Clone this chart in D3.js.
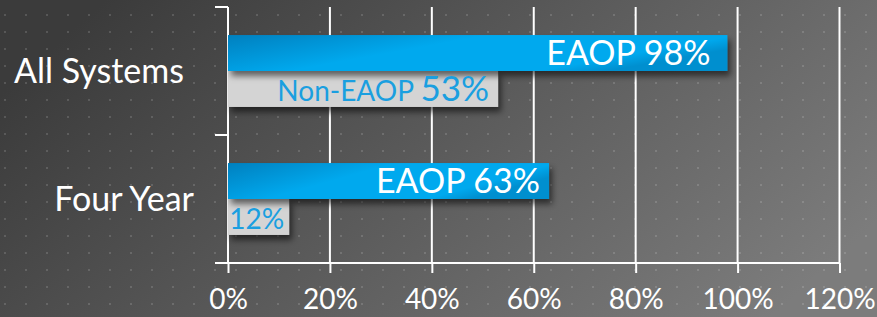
<!DOCTYPE html>
<html>
<head>
<meta charset="utf-8">
<script src="https://cdn.jsdelivr.net/npm/d3@7"></script>
<style>
  html, body { margin: 0; padding: 0; background: #555; }
  svg { display: block; font-family: "Lato", "Open Sans", sans-serif; }
</style>
</head>
<body>
<div id="vis"></div>
<script>
/* Data */
var categories = ["All Systems", "Four Year"];
var series = ["EAOP", "Non-EAOP"];
var eaopValues = [98, 63];
var nonEaopValues = [53, 12];
var barLabels = [["EAOP 98%", "Non-EAOP 53%"], ["EAOP 63%", "12%"]];
var xTicks = [0, 20, 40, 60, 80, 100, 120];

var width = 877, height = 317;
var margin = { top: 7, right: 37, bottom: 54, left: 228 };

var svg = d3.select("#vis").append("svg")
    .attr("width", width)
    .attr("height", height);

var defs = svg.append("defs");

/* background gradient */
var bg = defs.append("linearGradient").attr("id", "bg")
    .attr("x1", "0%").attr("y1", "30%").attr("x2", "100%").attr("y2", "70%");
bg.append("stop").attr("offset", "0%").attr("stop-color", "#3b3b3b");
bg.append("stop").attr("offset", "100%").attr("stop-color", "#7c7c7c");

/* dotted pattern */
var pat = defs.append("pattern").attr("id", "dots")
    .attr("patternUnits", "userSpaceOnUse")
    .attr("width", 21).attr("height", 17)
    .attr("x", 4).attr("y", 14);
pat.append("rect").attr("width", 2).attr("height", 2)
    .attr("fill", "#ffffff").attr("opacity", 0.14);

/* blue bar gradient */
var blue = defs.append("linearGradient").attr("id", "blue")
    .attr("x1", "0%").attr("y1", "0%").attr("x2", "100%").attr("y2", "40%");
blue.append("stop").attr("offset", "0%").attr("stop-color", "#0080bf");
blue.append("stop").attr("offset", "45%").attr("stop-color", "#00a9ee");
blue.append("stop").attr("offset", "88%").attr("stop-color", "#00a9ee");
blue.append("stop").attr("offset", "100%").attr("stop-color", "#008fcf");

/* shadow */
var shadow = defs.append("filter").attr("id", "shadow")
    .attr("x", "-10%").attr("y", "-30%").attr("width", "130%").attr("height", "190%");
shadow.append("feDropShadow")
    .attr("dx", 3).attr("dy", 5).attr("stdDeviation", 3)
    .attr("flood-color", "#000").attr("flood-opacity", 0.55);

svg.append("rect").attr("width", width).attr("height", height).attr("fill", "url(#bg)");
svg.append("rect").attr("width", width).attr("height", height).attr("fill", "url(#dots)");

/* Scales */
var x = d3.scaleLinear()
    .domain([0, 120])
    .range([margin.left, width - margin.right - 0.5]);

var y = d3.scaleBand()
    .domain(categories)
    .range([margin.top, height - margin.bottom])
    .padding(0);

var yInner = d3.scaleBand()
    .domain(series)
    .range([0, y.bandwidth()])
    .paddingInner(0)
    .paddingOuter(0.78);

var chart = svg.append("g");

/* gridlines */
chart.append("g").attr("class", "grid")
    .selectAll("line")
    .data(xTicks.filter(function (d) { return d > 0; }))
    .enter().append("line")
    .attr("x1", function (d) { return x(d); })
    .attr("x2", function (d) { return x(d); })
    .attr("y1", margin.top)
    .attr("y2", height - margin.bottom)
    .attr("stroke", "#ffffff")
    .attr("stroke-width", 2);

/* x axis */
var xAxis = d3.axisBottom(x)
    .tickValues(xTicks)
    .tickSize(10)
    .tickPadding(9)
    .tickFormat(function (d) { return d + "%"; });

var xAxisDraw = chart.append("g")
    .attr("transform", "translate(0," + (height - margin.bottom) + ")")
    .call(xAxis);
xAxisDraw.select(".domain").remove();
xAxisDraw.append("line")
    .attr("x1", margin.left - 13).attr("x2", x(120))
    .attr("y1", 0).attr("y2", 0)
    .attr("stroke", "#fff").attr("stroke-width", 2);
xAxisDraw.selectAll(".tick line").attr("stroke", "#fff").attr("stroke-width", 2);
xAxisDraw.selectAll(".tick text")
    .attr("fill", "#fff")
    .attr("font-size", 28)
    .attr("dy", "0.95em")
    .style("font-family", "Lato, sans-serif");

/* y axis (ticks at band boundaries) */
var yAxisG = chart.append("g");
yAxisG.append("line")
    .attr("x1", margin.left).attr("x2", margin.left)
    .attr("y1", margin.top).attr("y2", height - margin.bottom)
    .attr("stroke", "#fff").attr("stroke-width", 2);
var bounds = categories.map(function (c) { return y(c); }).concat([y.range()[1]]);
yAxisG.selectAll(".ytick")
    .data(bounds)
    .enter().append("line")
    .attr("x1", margin.left - 13).attr("x2", margin.left)
    .attr("y1", function (d) { return d; })
    .attr("y2", function (d) { return d; })
    .attr("stroke", "#fff").attr("stroke-width", 2);

/* category labels */
yAxisG.selectAll(".cat")
    .data(categories)
    .enter().append("text")
    .attr("x", function (d, i) { return margin.left - (i === 0 ? 44 : 34); })
    .attr("y", function (d) { return y(d) + y.bandwidth() / 2; })
    .attr("dy", "0.35em")
    .attr("text-anchor", "end")
    .attr("fill", "#fff")
    .attr("font-size", 34)
    .text(function (d) { return d; });

/* bars */
var groups = chart.selectAll(".cat-group")
    .data(categories)
    .enter().append("g")
    .attr("transform", function (d) { return "translate(0," + y(d) + ")"; });

groups.append("rect")
    .attr("x", x(0))
    .attr("y", yInner("Non-EAOP"))
    .attr("width", function (d, i) { return x(nonEaopValues[i]) - x(0); })
    .attr("height", yInner.bandwidth())
    .attr("fill", "#d4d4d4")
    .attr("filter", "url(#shadow)");

groups.append("rect")
    .attr("x", x(0))
    .attr("y", yInner("EAOP"))
    .attr("width", function (d, i) { return x(eaopValues[i]) - x(0); })
    .attr("height", yInner.bandwidth())
    .attr("fill", "url(#blue)")
    .attr("filter", "url(#shadow)");

/* bar labels */
groups.append("text")
    .attr("x", function (d, i) { return x(eaopValues[i]) - (i === 0 ? 17 : 9); })
    .attr("y", yInner("EAOP") + yInner.bandwidth() / 2)
    .attr("dy", "0.36em")
    .attr("text-anchor", "end")
    .attr("fill", "#fff")
    .attr("font-size", 34)
    .text(function (d, i) { return barLabels[i][0]; });

var grayLabels = groups.append("text")
    .attr("x", function (d, i) { return x(nonEaopValues[i]) - (i === 0 ? 9 : 5); })
    .attr("y", yInner("Non-EAOP") + yInner.bandwidth() / 2)
    .attr("font-size", 30)
    .attr("dy", "0.4em")
    .attr("text-anchor", "end")
    .attr("fill", "#1a9fe0");

grayLabels.each(function (d, i) {
    var t = d3.select(this);
    var parts = barLabels[i][1].split(" ");
    if (parts.length > 1) {
        t.append("tspan").attr("font-size", 28).text(parts[0] + " ");
        t.append("tspan").attr("font-size", 35).text(parts[1]);
    } else {
        t.append("tspan").attr("font-size", 28).text(parts[0]);
    }
});
</script>
</body>
</html>
